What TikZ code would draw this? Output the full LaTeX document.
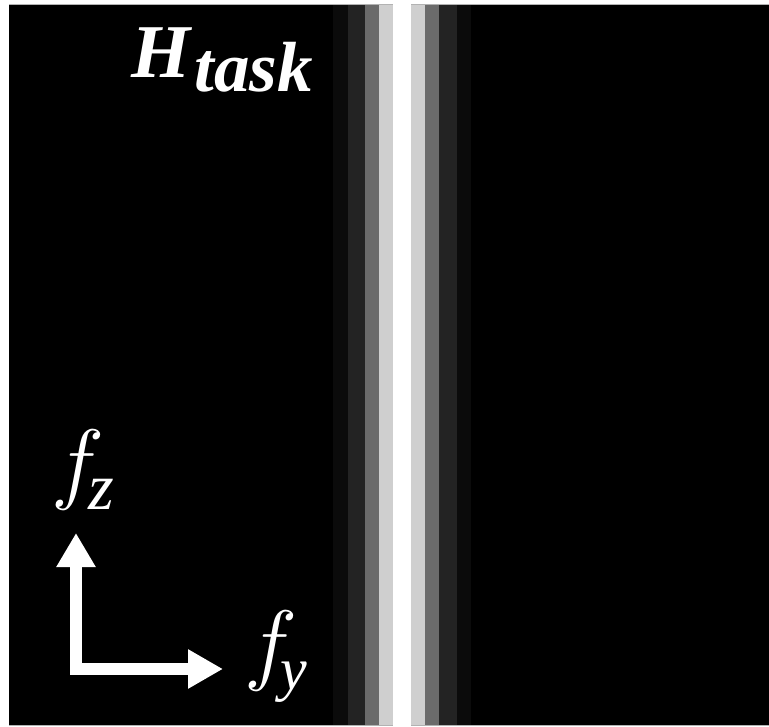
\RequirePackage{fix-cm}
\documentclass[tikz,border=0pt]{standalone}
\usepackage{fontspec}
\setmainfont{Liberation Serif}
\usetikzlibrary{arrows.meta}
\begin{document}
\begin{tikzpicture}[x=1pt,y=-1pt,
  lbl/.style={text=white,inner sep=0pt,anchor=base west},
  band/.style={draw=none}]
\useasboundingbox (0,0) rectangle (769,727);
\fill[white] (0,0) rectangle (769,727);
\fill[black] (9,5) rectangle (769,725);
\draw[gray!60,line width=1pt] (9,4.5) -- (769,4.5);
\draw[gray!60,line width=1pt] (9,725.5) -- (769,725.5);
% stripes
\fill[band,fill={rgb,255:red,11;green,11;blue,11}] (333,5) rectangle (348,725);
\fill[band,fill={rgb,255:red,35;green,35;blue,35}] (348,5) rectangle (365,725);
\fill[band,fill={rgb,255:red,107;green,107;blue,107}] (365,5) rectangle (379,725);
\fill[band,fill={rgb,255:red,207;green,207;blue,207}] (379,5) rectangle (393,725);
\fill[band,fill=white] (393,4) rectangle (411,726);
\fill[band,fill={rgb,255:red,207;green,207;blue,207}] (411,5) rectangle (425,725);
\fill[band,fill={rgb,255:red,107;green,107;blue,107}] (425,5) rectangle (439,725);
\fill[band,fill={rgb,255:red,35;green,35;blue,35}] (439,5) rectangle (457,725);
\fill[band,fill={rgb,255:red,11;green,11;blue,11}] (457,5) rectangle (471,725);
% title
\node[lbl] (H) at (131,78) {\fontsize{76}{80}\selectfont\bfseries\itshape H\raisebox{-14pt}{\kern4pt\fontsize{71}{75}\selectfont task}};
% axis labels
\node[lbl] (fz) at (51,493) {\makebox[37pt][l]{\fontsize{90}{94}\selectfont$f$}\raisebox{-17pt}{\fontsize{66}{70}\selectfont\itshape z}};
\node[lbl] (fy) at (244,673) {\makebox[36pt][l]{\fontsize{90}{94}\selectfont$f$}\raisebox{-16pt}{\fontsize{60}{64}\selectfont\itshape y}};
% axes arrow
\coordinate (top) at (76,533);
\coordinate (corner) at (76,669);
\coordinate (right) at (223,669);
\draw[white,line width=12pt,miter limit=10,
  {Triangle[width=37pt,length=34pt]}-{Triangle[width=37pt,length=35pt]}]
  (top) -- (corner) -- (right);
\end{tikzpicture}
\end{document}
